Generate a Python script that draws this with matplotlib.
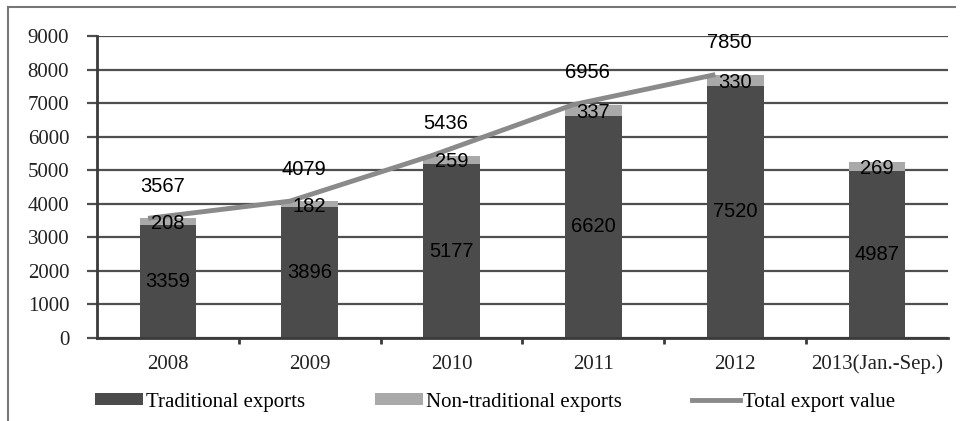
import matplotlib.pyplot as plt
import numpy as np
from matplotlib.lines import Line2D
from matplotlib.patches import Patch

# Data
years = ["2008", "2009", "2010", "2011", "2012", "2013(Jan.-Sep.)"]
traditional = [3359, 3896, 5177, 6620, 7520, 4987]
non_traditional = [208, 182, 259, 337, 330, 269]
total_years = ["2008", "2009", "2010", "2011", "2012"]
total_value = [3567, 4079, 5436, 6956, 7850]

dark = "#4b4b4b"
light = "#a9a9a9"
line_grey = "#8a8a8a"
serif = "Liberation Serif"
sans = "Liberation Sans"

fig = plt.figure(figsize=(9.67, 4.21), dpi=100)
ax = fig.add_axes([0.1003, 0.197, 0.880, 0.7175])

x = np.arange(len(years))
bar_width = 0.40

bars_trad = ax.bar(x, traditional, bar_width, color=dark, zorder=2)
bars_non = ax.bar(x, non_traditional, bar_width, bottom=traditional, color=light, zorder=2)

# Total export value line (only full years)
xt = np.arange(len(total_years)) - 0.14
ax.plot(xt, total_value, color=line_grey, lw=3.5, zorder=3, solid_capstyle="butt")

# Value labels
for i in range(len(years)):
    ax.text(x[i], traditional[i] / 2, str(traditional[i]), ha="center", va="center",
            fontsize=14.5, family=sans, color="#000000", zorder=4)
    ax.text(x[i], traditional[i] + non_traditional[i] / 2 - 60, str(non_traditional[i]),
            ha="center", va="center", fontsize=14.5, family=sans, color="#000000", zorder=4)
for i, v in enumerate(total_value):
    ax.text(i - 0.04, v + 950, str(v), ha="center", va="center",
            fontsize=14.5, family=sans, color="#000000", zorder=4)

# Axes styling
ax.set_xlim(-0.5, len(years) - 0.5)
ax.set_ylim(0, 9000)
ax.set_yticks(np.arange(0, 9001, 1000))
ax.yaxis.grid(True, color="#4f4f4f", lw=1.6, zorder=1)
ax.set_axisbelow(True)
ax.tick_params(axis="y", length=7, width=1.6, color="#4f4f4f", pad=13,
               labelsize=15, labelfontfamily=serif, labelcolor="#222222")
ax.set_xticks(x)
ax.set_xticklabels(years)
ax.tick_params(axis="x", length=0, pad=12, labelsize=15,
               labelfontfamily=serif, labelcolor="#222222")
ax.set_xticks(np.arange(0.5, len(years) - 0.5, 1), minor=True)
ax.tick_params(axis="x", which="minor", length=4, width=2, color="#3a3a3a")

for side in ["top", "right"]:
    ax.spines[side].set_visible(False)
ax.spines["left"].set_color("#3a3a3a")
ax.spines["left"].set_linewidth(2)
ax.spines["bottom"].set_color("#3a3a3a")
ax.spines["bottom"].set_linewidth(2)

# Legend
handles = [
    Patch(facecolor=dark, edgecolor="none", label="Traditional exports"),
    Patch(facecolor=light, edgecolor="none", label="Non-traditional exports"),
    Line2D([0], [0], color=line_grey, lw=3.5, label="Total export value"),
]
fig.legend(handles=handles, loc="center", bbox_to_anchor=(0.512, 0.045), ncol=3,
           frameon=False, prop={"family": serif, "size": 15},
           handlelength=2.3, handleheight=0.55, handletextpad=0.15, columnspacing=3.35)

# Outer frame (top and left edges)
fig.add_artist(Line2D([8 / 967, 955 / 967], [1 - 7 / 421, 1 - 7 / 421],
                      transform=fig.transFigure, color="#777777", lw=1.5))
fig.add_artist(Line2D([8 / 967, 8 / 967], [1 - 7 / 421, 0],
                      transform=fig.transFigure, color="#777777", lw=1.5))

fig.savefig("out.png", dpi=100)
